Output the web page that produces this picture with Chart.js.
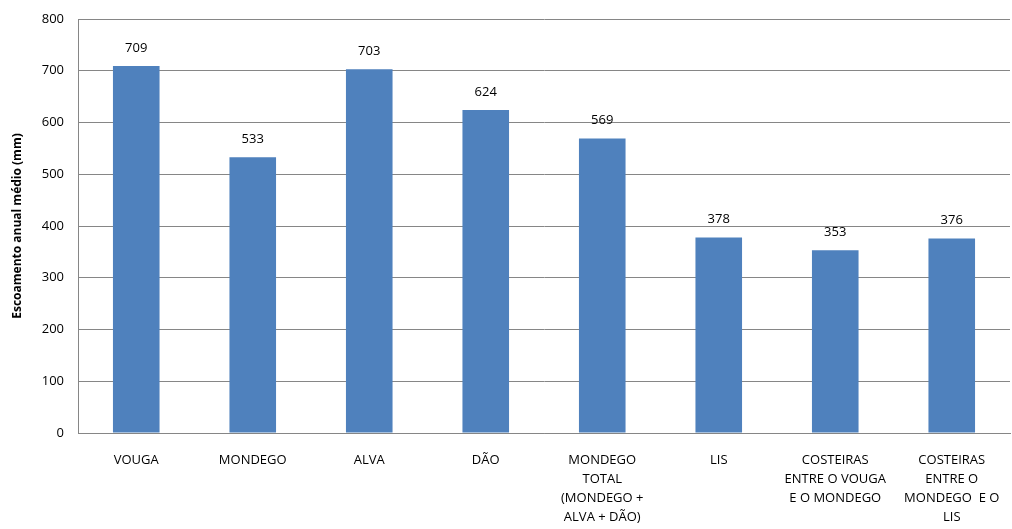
<!DOCTYPE html>
<html>
<head>
<meta charset="utf-8">
<style>
  html, body { margin: 0; padding: 0; background: #fff; }
  #wrap { width: 1012px; height: 529px; }
</style>
</head>
<body>
<div id="wrap"><canvas id="runoffChart" width="1012" height="529"></canvas></div>
<script src="https://cdn.jsdelivr.net/npm/chart.js"></script>
<script>
// Bacias hidrográficas (x labels, one array per line)
const categories = [
    ['VOUGA'],
    ['MONDEGO'],
    ['ALVA'],
    ['DÃO'],
    ['MONDEGO', 'TOTAL', '(MONDEGO +', 'ALVA + DÃO)'],
    ['LIS'],
    ['COSTEIRAS', 'ENTRE O VOUGA', 'E O MONDEGO'],
    ['COSTEIRAS', 'ENTRE O', 'MONDEGO  E O', 'LIS']
];
const runoff = [709, 533, 703, 624, 569, 378, 353, 376];
const yTicks = [0, 100, 200, 300, 400, 500, 600, 700, 800];

const FONT = "'Open Sans', 'Noto Sans', sans-serif";

// draws the value above each bar
const valueLabels = {
    id: 'valueLabels',
    afterDatasetsDraw(chart) {
        const ctx = chart.ctx;
        const meta = chart.getDatasetMeta(0);
        ctx.save();
        ctx.fillStyle = '#000';
        ctx.font = '13px ' + FONT;
        ctx.textAlign = 'center';
        ctx.textBaseline = 'middle';
        meta.data.forEach(function(bar, i) {
            ctx.fillText(runoff[i], bar.x, bar.y - 18);
        });
        ctx.restore();
    }
};

new Chart(document.getElementById('runoffChart'), {
    type: 'bar',
    data: {
        labels: categories,
        datasets: [{
            data: runoff,
            backgroundColor: '#4F81BD',
            categoryPercentage: 1.0,
            barPercentage: 0.4
        }]
    },
    options: {
        responsive: false,
        animation: false,
        layout: { padding: { top: 19, right: 2, left: 0, bottom: 0 } },
        plugins: {
            legend: { display: false },
            tooltip: { enabled: false }
        },
        scales: {
            x: {
                grid: { display: false, drawTicks: false },
                border: { color: '#868686', width: 1 },
                ticks: {
                    color: '#000',
                    font: { family: FONT, size: 13, lineHeight: 1.46 },
                    padding: 18,
                    maxRotation: 0,
                    autoSkip: false
                },
                afterFit: function(scale) {
                    scale.height = 96;
                    scale.paddingLeft = 0;
                    scale.paddingRight = 0;
                }
            },
            y: {
                min: 0,
                max: 800,
                afterBuildTicks: function(scale) {
                    scale.ticks = yTicks.map(function(v) { return { value: v }; });
                },
                grid: { color: '#868686', drawTicks: false },
                border: { color: '#868686', width: 1 },
                ticks: {
                    color: '#000',
                    font: { family: FONT, size: 13 },
                    padding: 14
                },
                title: {
                    display: true,
                    text: 'Escoamento anual médio (mm)',
                    color: '#000',
                    font: { family: FONT, size: 12, weight: 'bold' },
                    padding: { top: 10, bottom: 0 }
                },
                afterFit: function(scale) {
                    scale.width = 78;
                    scale.paddingTop = 0;
                    scale.paddingBottom = 0;
                }
            }
        }
    },
    plugins: [valueLabels]
});
</script>
</body>
</html>
